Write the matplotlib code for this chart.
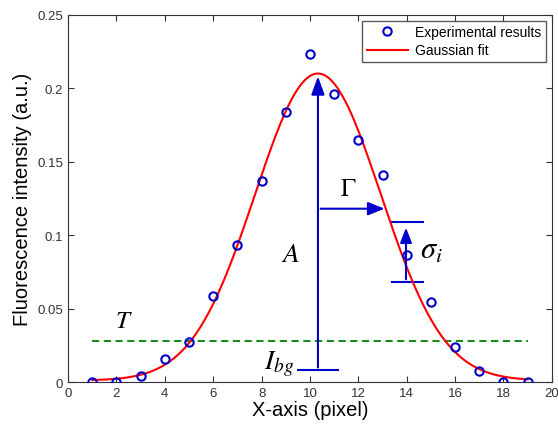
import numpy as np
import matplotlib
matplotlib.use('Agg')
import matplotlib.pyplot as plt

plt.rcParams['font.family'] = ['Liberation Sans', 'DejaVu Sans']
plt.rcParams['mathtext.fontset'] = 'stix'

# measured points
pix = np.arange(1, 20)
intensity = [0.000, -0.0003, 0.004, 0.0157, 0.027, 0.0588, 0.0935, 0.1367, 0.184, 0.223,
             0.196, 0.165, 0.141, 0.0865, 0.0547, 0.0238, 0.0075, 0.000, 0.000]

# Gaussian fit parameters
fit_bg = 0.001
fit_amp = 0.209
fit_mu = 10.33
fit_sigma = 2.6
threshold = 0.028
ibg_level = 0.008
gamma_y = 0.118
gamma_x_end = 13.2
sig_x = 13.97
sig_lo, sig_hi = 0.068, 0.109

blue = '#0000cc'

fig = plt.figure(figsize=(5.58, 4.27), dpi=100)
ax = fig.add_axes([0.122, 0.103, 0.867, 0.860])

xf = np.linspace(1, 19, 300)
yf = fit_bg + fit_amp * np.exp(-(xf - fit_mu) ** 2 / (2 * fit_sigma ** 2))

ax.plot(pix, intensity, 'o', mfc='none', mec=blue, ms=6, mew=1.5,
        label='Experimental results', zorder=4)
ax.plot(xf, yf, color='red', lw=1.5, label='Gaussian fit', zorder=3)
ax.plot([1, 19], [threshold, threshold], '--', color='#008000', lw=1.3, dashes=(4, 2.5))

# A arrow with I_bg cap
peak = fit_bg + fit_amp
ax.annotate('', xy=(fit_mu, peak), xytext=(fit_mu, ibg_level),
            arrowprops=dict(arrowstyle='-|>,head_length=1.1,head_width=0.4', color=blue, lw=1.5))
ax.plot([9.5, 11.16], [ibg_level, ibg_level], color=blue, lw=1.5)

# Gamma arrow
ax.annotate('', xy=(gamma_x_end, gamma_y), xytext=(fit_mu, gamma_y),
            arrowprops=dict(arrowstyle='-|>,head_length=1.0,head_width=0.4', color=blue, lw=1.5))

# sigma_i error bar
ax.annotate('', xy=(sig_x, sig_hi - 0.002), xytext=(sig_x, sig_lo),
            arrowprops=dict(arrowstyle='-|>,head_length=0.9,head_width=0.35', color=blue, lw=1.5))
ax.plot([13.4, 14.67], [sig_hi, sig_hi], color=blue, lw=1.5)
ax.plot([13.4, 14.67], [sig_lo, sig_lo], color=blue, lw=1.5)

ax.text(11.6, 0.132, r'$\mathrm{\Gamma}$', fontsize=18, ha='center', va='center')
ax.text(9.2, 0.087, r'$A$', fontsize=20, ha='center', va='center')
ax.text(2.3, 0.042, r'$T$', fontsize=18, ha='center', va='center')
ax.text(8.1, 0.013, r'$I_{bg}$', fontsize=20, ha='left', va='center')
ax.text(14.55, 0.09, r'$\sigma_i$', fontsize=22, ha='left', va='center')

ax.set_xlim(0, 20)
ax.set_ylim(0, 0.25)
ax.set_xticks(np.arange(0, 21, 2))
ax.set_yticks([0, 0.05, 0.1, 0.15, 0.2, 0.25])
ax.set_yticklabels(['0', '0.05', '0.1', '0.15', '0.2', '0.25'])
ax.tick_params(direction='in', top=True, right=True, labelsize=9.5, colors='#333333',
               labelcolor='#333333', length=4)
for s in ax.spines.values():
    s.set_color('#333333')

ax.set_xlabel('X-axis (pixel)', fontsize=14.5, labelpad=1)
ax.set_ylabel('Fluorescence intensity (a.u.)', fontsize=14.5, labelpad=4)

leg = ax.legend(loc='upper right', fontsize=10, frameon=True, fancybox=False,
                edgecolor='#333333', borderaxespad=0.45, handlelength=3.0,
                borderpad=0.3, labelspacing=0.3, handletextpad=0.5)
leg.get_frame().set_linewidth(1.0)

fig.savefig('out.png', dpi=100)
